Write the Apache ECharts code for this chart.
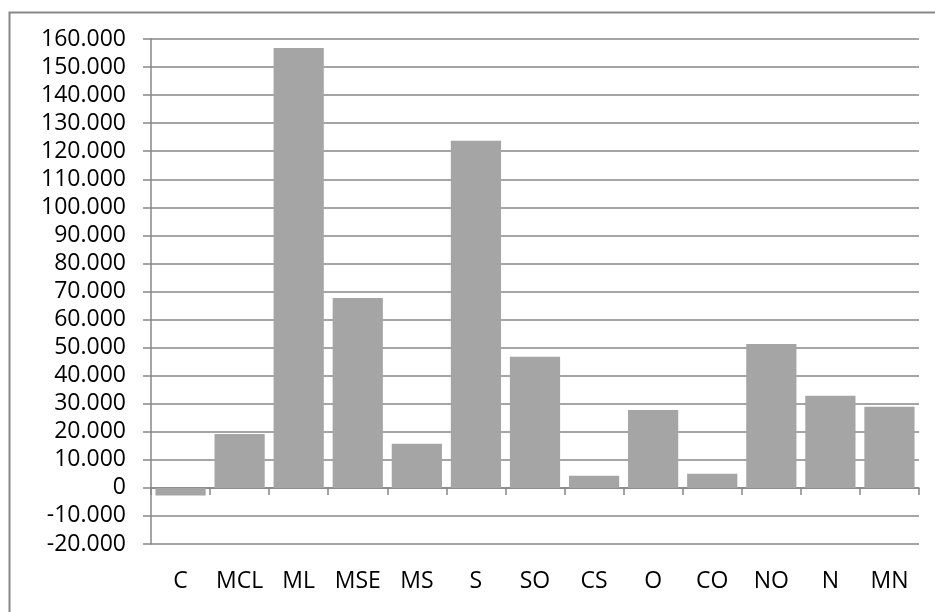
<!DOCTYPE html>
<html>
<head>
<meta charset="utf-8">
<script src="https://cdn.jsdelivr.net/npm/echarts@6/dist/echarts.min.js"></script>
<style>
html,body{margin:0;padding:0;background:#fff;}
#chart{width:935px;height:612px;}
</style>
</head>
<body>
<div id="chart"></div>
<script>
const categories = ['C','MCL','ML','MSE','MS','S','SO','CS','O','CO','NO','N','MN'];
const values = [-2700, 19200, 156800, 67700, 15700, 123700, 46700, 4300, 27800, 5000, 51300, 32800, 28900];
const yMin = -20000, yMax = 160000, yStep = 10000;

function fmt(v){
  const neg = v < 0;
  let s = Math.abs(v).toString().replace(/\B(?=(\d{3})+(?!\d))/g, '.');
  return (neg ? '-' : '') + s;
}

const chart = echarts.init(document.getElementById('chart'), null, {renderer:'canvas'});
const axisColor = '#878787';
const font = '"Open Sans", sans-serif';
chart.setOption({
  animation: false,
  backgroundColor: '#fff',
  graphic: [{
    type: 'rect',
    shape: {x: 9.5, y: 12.5, width: 940, height: 620},
    style: {fill: 'none', stroke: axisColor, lineWidth: 2},
    silent: true
  }],
  grid: {left: 151, top: 39, right: 16, bottom: 68, containLabel: false},
  xAxis: [{
    type: 'category',
    data: categories,
    axisLine: {show: true, onZero: true, lineStyle: {color: axisColor, width: 1.5}},
    axisTick: {show: true, length: 7, lineStyle: {color: axisColor, width: 1.5}},
    axisLabel: {show: false}
  }, {
    type: 'category',
    data: categories,
    position: 'bottom',
    axisLine: {show: false, onZero: false},
    axisTick: {show: false},
    axisLabel: {show: true, interval: 0, hideOverlap: false, margin: 26, fontFamily: font, fontSize: 23, color: '#000'}
  }],
  yAxis: {
    type: 'value',
    min: yMin, max: yMax, interval: yStep,
    axisLine: {show: true, lineStyle: {color: axisColor, width: 1.5}},
    axisTick: {show: true, length: 8, lineStyle: {color: axisColor, width: 1.5}},
    splitLine: {show: true, lineStyle: {color: axisColor, width: 1.5}},
    axisLabel: {margin: 25, fontFamily: font, fontSize: 23, color: '#000', formatter: fmt}
  },
  series: [{
    type: 'bar',
    xAxisIndex: 0,
    data: values,
    barCategoryGap: '15%',
    itemStyle: {color: '#a5a5a5'}
  }]
});
</script>
</body>
</html>
